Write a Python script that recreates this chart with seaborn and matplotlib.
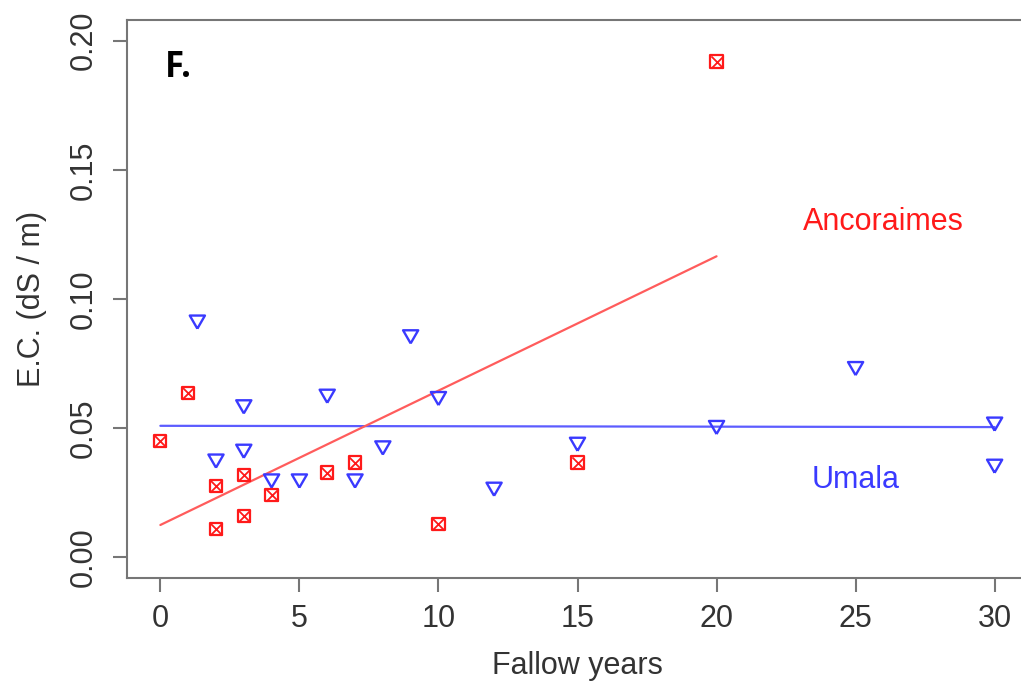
import numpy as np
import pandas as pd
import seaborn as sns
import matplotlib
matplotlib.use("Agg")
import matplotlib.pyplot as plt
from matplotlib.markers import MarkerStyle

# ---- data ----
anc_years = [0, 1, 2, 2, 3, 3, 4, 6, 7, 10, 15, 20]
anc_ec = [0.0450, 0.0637, 0.0275, 0.0111, 0.0318, 0.0159, 0.0240, 0.0328,
          0.0367, 0.0128, 0.0367, 0.1919]
uma_years = [1.33, 2, 3, 3, 4, 5, 6, 7, 8, 9, 10, 12, 15, 20, 25, 30, 30]
uma_ec = [0.0919, 0.0381, 0.0591, 0.0419, 0.0304, 0.0304, 0.0632, 0.0304,
          0.0432, 0.0862, 0.0623, 0.0272, 0.0446, 0.0511, 0.0739, 0.0524,
          0.0361]
x_ticks = [0, 5, 10, 15, 20, 25, 30]
y_ticks = [0.00, 0.05, 0.10, 0.15, 0.20]
y_tick_labels = ["0.00", "0.05", "0.10", "0.15", "0.20"]

anc = pd.DataFrame({"years": anc_years, "ec": anc_ec})
uma = pd.DataFrame({"years": uma_years, "ec": uma_ec})

sns.set_style("white")
plt.rcParams["font.family"] = ["Liberation Sans", "DejaVu Sans"]

RED = "#FF1A1A"
BLUE = "#3A3AFF"
GRAY = "#767676"

fig = plt.figure(figsize=(10.21, 6.96), dpi=100)
ax = fig.add_axes([127 / 1021, 1 - 578 / 696, (1028 - 127) / 1021, (578 - 20) / 696])

# regression lines
ax.set_xlim(0, 30)
sns.regplot(data=uma, x="years", y="ec", scatter=False, ci=None, truncate=False,
            ax=ax, line_kws=dict(color="#5C5CFF", lw=1.6))
sns.regplot(data=anc, x="years", y="ec", scatter=False, ci=None, truncate=True,
            ax=ax, line_kws=dict(color="#FF5C5C", lw=1.6))

# R-like pch 6 triangle (point-down, circumcentre at the data point)
tri = MarkerStyle([(0, -1), (-0.866, 0.5), (0.866, 0.5), (0, -1)])
sns.scatterplot(data=uma, x="years", y="ec", marker=tri, s=12.6 ** 2,
                facecolors="none", edgecolor=BLUE, linewidth=1.7, ax=ax, zorder=3)
# R-like pch 7 (square with X)
sns.scatterplot(data=anc, x="years", y="ec", marker="s", s=8.8 ** 2,
                facecolors="none", edgecolor=RED, linewidth=1.6, ax=ax, zorder=3)
sns.scatterplot(data=anc, x="years", y="ec", marker="x", s=8.8 ** 2,
                color=RED, linewidth=1.3, ax=ax, zorder=3)

ax.set_xlim(-1.2, 31.2)
ax.set_ylim(-0.008, 0.208)
ax.set_xticks(x_ticks)
ax.set_xticklabels([str(t) for t in x_ticks])
ax.set_yticks(y_ticks)
ax.set_yticklabels(y_tick_labels, rotation=90, va="center")

for side in ["left", "bottom", "top", "right"]:
    ax.spines[side].set_visible(True)
    ax.spines[side].set_color(GRAY)
    ax.spines[side].set_linewidth(1.5)

ax.tick_params(axis="both", direction="out", length=10, width=1.5, color=GRAY,
               labelsize=22, labelcolor="#333333")
ax.tick_params(axis="x", pad=9, bottom=True)
ax.tick_params(axis="y", pad=10, left=True)

ax.set_xlabel("Fallow years", fontsize=22, color="#333333", labelpad=12)
ax.set_ylabel("E.C. (dS / m)", fontsize=22, color="#333333", labelpad=16)

ax.text(26.0, 0.130, "Ancoraimes", color=RED, fontsize=22, ha="center", va="center")
ax.text(25.0, 0.0298, "Umala", color=BLUE, fontsize=22, ha="center", va="center")
ax.text(0.15, 0.1895, "F.", color="black", fontsize=25, fontweight="bold",
        family=["Open Sans", "DejaVu Sans"], ha="left", va="center")

fig.savefig("out.png", dpi=100)
